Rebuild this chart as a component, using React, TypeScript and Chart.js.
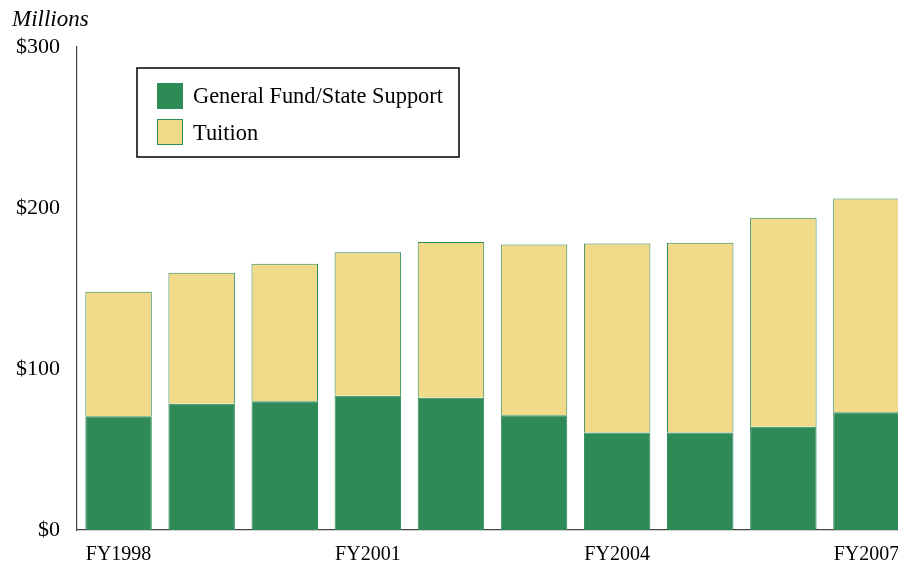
import React, { useEffect, useRef } from "react";
import { Chart, registerables } from "chart.js";

Chart.register(...registerables);

const categories = ["FY1998", "FY1999", "FY2000", "FY2001", "FY2002", "FY2003", "FY2004", "FY2005", "FY2006", "FY2007"];
const generalFund = [70.7, 78.4, 80.0, 83.4, 82.2, 71.3, 60.6, 60.6, 64.1, 73.2];
const tuition = [77.3, 81.4, 85.3, 89.1, 96.7, 106.0, 117.3, 117.8, 129.8, 132.7];
const seriesNames = ["General Fund/State Support", "Tuition"];
const yTicks = [0, 100, 200, 300];
const unitLabel = "Millions";

const GREEN = "#2E8A57";
const GOLD = "#F1DB8B";
const FONT = "'Liberation Serif', 'Times New Roman', serif";

export default function App() {
  const ref = useRef<HTMLCanvasElement | null>(null);

  useEffect(() => {
    document.body.style.margin = "0";
    document.body.style.overflow = "hidden";
    if (!ref.current) return;
    const overlay = {
      id: "overlay",
      afterDraw(chart: any) {
        const ctx = chart.ctx;
        ctx.save();
        // unit label
        ctx.fillStyle = "#000";
        ctx.font = `italic 23px ${FONT}`;
        ctx.textAlign = "left";
        ctx.textBaseline = "alphabetic";
        ctx.fillText(unitLabel, 4, 18);
        // legend box
        const bx = 129, by = 60, bw = 322, bh = 89;
        ctx.fillStyle = "#fff";
        ctx.fillRect(bx, by, bw, bh);
        ctx.strokeStyle = "#000";
        ctx.lineWidth = 1.5;
        ctx.strokeRect(bx, by, bw, bh);
        const items = chart.data.datasets.map((d: any) => ({ label: d.label, fill: d.backgroundColor }));
        const rows = [75, 111];
        const bases = [94.7, 132];
        items.forEach((it: any, i: number) => {
          ctx.fillStyle = it.fill;
          ctx.fillRect(149, rows[i], 26, 26);
          ctx.strokeStyle = GREEN;
          ctx.lineWidth = 1;
          ctx.strokeRect(149.5, rows[i] + 0.5, 25, 25);
          ctx.fillStyle = "#000";
          ctx.font = `22.4px ${FONT}`;
          ctx.fillText(it.label, 185, bases[i]);
        });
        ctx.restore();
      },
    };

    const chart = new Chart(ref.current, {
      type: "bar",
      data: {
        labels: categories,
        datasets: [
          {
            label: seriesNames[0],
            data: generalFund,
            backgroundColor: GREEN,
            borderColor: GREEN,
            borderWidth: 1,
            barPercentage: 0.8,
            categoryPercentage: 1,
          },
          {
            label: seriesNames[1],
            data: tuition,
            backgroundColor: GOLD,
            borderColor: GREEN,
            borderWidth: 1,
            barPercentage: 0.8,
            categoryPercentage: 1,
          },
        ],
      },
      options: {
        responsive: false,
        animation: false,
        layout: { padding: { top: 39, right: 10, left: 0, bottom: 0 } },
        plugins: { legend: { display: false }, tooltip: { enabled: false }, title: { display: false } },
        scales: {
          x: {
            stacked: true,
            grid: { display: false, drawTicks: false },
            border: { display: true, color: "#444", width: 1.2 },
            ticks: {
              autoSkip: false,
              maxRotation: 0,
              padding: 13,
              color: "#000",
              font: { family: FONT, size: 20 },
              callback: (_v: any, i: number) => (i % 3 === 0 ? categories[i] : ""),
            },
            afterFit: (s: any) => {
              s.height = 34;
            },
          },
          y: {
            stacked: true,
            min: yTicks[0],
            max: yTicks[yTicks.length - 1],
            afterBuildTicks: (s: any) => {
              s.ticks = yTicks.map((v) => ({ value: v }));
            },
            grid: { display: false, drawTicks: false },
            border: { display: true, color: "#444", width: 1.2 },
            ticks: {
              padding: 17,
              color: "#000",
              font: { family: FONT, size: 22 },
              callback: (v: any) => "$" + v,
            },
            afterFit: (s: any) => {
              s.width = 69;
            },
          },
        },
      },
      plugins: [overlay],
    });
    return () => chart.destroy();
  }, []);

  return (
    <div style={{ width: 898, height: 564, overflow: "hidden", position: "relative" }}>
      <canvas
        ref={ref}
        width={910}
        height={556}
        style={{ display: "block", position: "absolute", left: 8, top: 8 }}
      />
    </div>
  );
}
